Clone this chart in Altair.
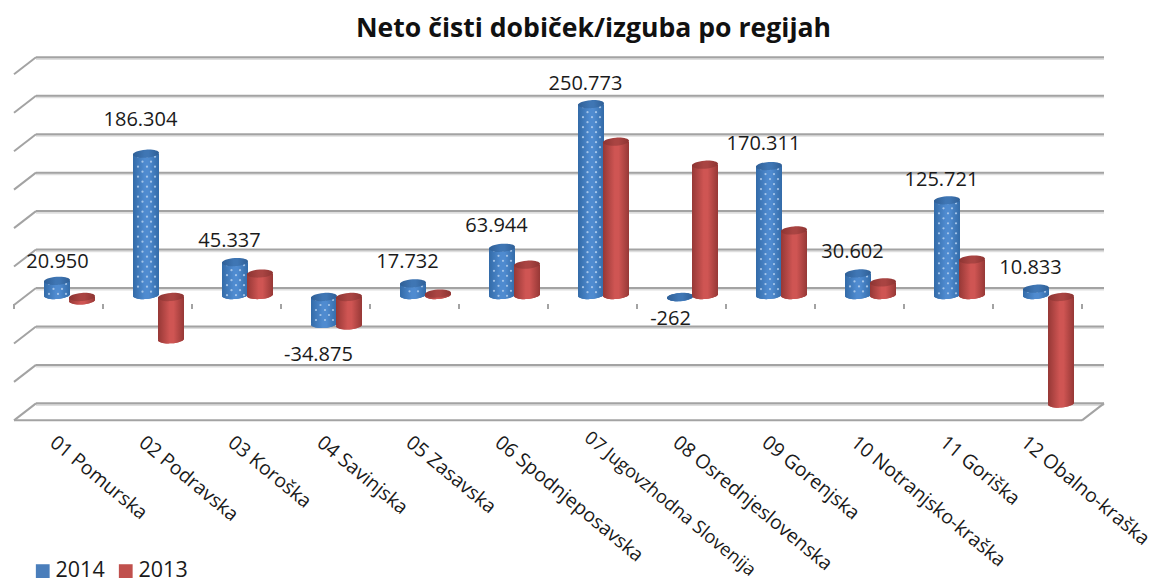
import altair as alt
import pandas as pd

categories = ["01 Pomurska", "02 Podravska", "03 Koroška", "04 Savinjska", "05 Zasavska",
              "06 Spodnjeposavska", "07 Jugovzhodna Slovenija", "08 Osrednjeslovenska",
              "09 Gorenjska", "10 Notranjsko-kraška", "11 Goriška", "12 Obalno-kraška"]
values_2014 = [20950, 186304, 45337, -34875, 17732, 63944, 250773, -262, 170311, 30602, 125721, 10833]
values_2013 = [-4500, -55000, 30500, -37000, 4500, 42000, 202000, 172000, 86500, 19000, 48700, -138500]
grid_values = [-150000, -100000, -50000, 0, 50000, 100000, 150000, 200000, 250000, 300000]
label_text = ["20.950", "186.304", "45.337", "-34.875", "17.732", "63.944", "250.773", "-262",
              "170.311", "30.602", "125.721", "10.833"]
label_dy = [-19, -34, -21, 31, -21, -22, -20, 22, -22, -21, -20, -21]
label_dx = [0.5, -5.5, -5.5, -5.5, -5.5, -5.5, -5.5, -9.5, -5.5, -5.5, -5.5, -5.5]
category_dx = [-6, -6, -6, -6, -6, -6, -6, -6, -6, -6, -6, -14]
category_dy = [0, 0, 0, 0, 0, 0, -4, 0, 0, 0, 0, 0]
category_fs = [19.5, 19.5, 19.5, 19.5, 19.5, 19.5, 18.3, 19.5, 19.5, 19.5, 19.5, 19.5]

# geometry of the pseudo-3D box (pixels)
W, H = 1143, 382
TOP = 40
PX_X = 89.0
PX_V = 0.000769
X0_ABS, Y0_ABS = 14.0, 297.0
x_dom = [(8 - X0_ABS) / PX_X, (8 - X0_ABS + W) / PX_X]
y_dom = [(Y0_ABS - (48 + H)) / PX_V, (Y0_ABS - 48) / PX_V]
xs = alt.Scale(domain=x_dom, range=[0, W], nice=False, zero=False)
ys = alt.Scale(domain=y_dom, range=[H, 0], nice=False, zero=False)
X = lambda f: alt.X(f, type="quantitative", scale=xs, axis=None)
Y = lambda f: alt.Y(f, type="quantitative", scale=ys, axis=None)

DX = 22 / PX_X
BACK = 9 / PX_V
FRONT = -8 / PX_V
BAR = 26 / PX_X
BASE_UP = 2 / PX_V
n = len(categories)

rows = []
for i, c in enumerate(categories):
    cx = i + 0.5 + 11 / PX_X
    for yr, v, x0 in ((2014, values_2014[i], cx - BAR + 0.5 / PX_X), (2013, values_2013[i], cx - 0.5 / PX_X)):
        rows.append(dict(cat=c, year=str(yr), v=v, x0=x0, x1=x0 + BAR, xm=x0 + BAR / 2,
                         top=max(v, 0), bot=BASE_UP if v > 0 else v))
df = pd.DataFrame(rows)
blue = df[df.year == "2014"]
red = df[df.year == "2013"]

grid = pd.DataFrame([dict(xf=0.0, xb=DX, xr=n + DX, yb=g + BACK, yf=g + BACK - 17 / PX_V) for g in grid_values])
floor = grid.iloc[[0]].assign(xe=float(n))
ticks = pd.DataFrame([dict(x=float(i), y=FRONT + 1 / PX_V, y2=FRONT - 4 / PX_V) for i in range(n + 1)])

GRID = "#a3a3a3"
SHADOW = "#dedede"
shadow_px = 1.6 / PX_V
layers = [
    alt.Chart(grid).transform_calculate(ys=f"datum.yb-{shadow_px}").mark_rule(color=SHADOW, strokeWidth=2).encode(
        x=X("xb"), x2="xr", y=Y("ys:Q")),
    alt.Chart(grid).mark_rule(color=GRID, strokeWidth=2).encode(x=X("xb"), x2="xr", y=Y("yb")),
    alt.Chart(grid).mark_rule(color=GRID, strokeWidth=2).encode(x=X("xf"), x2="xb", y=Y("yf"), y2="yb"),
    alt.Chart(floor).mark_rule(color=GRID, strokeWidth=2).encode(x=X("xf"), x2="xe", y=Y("yf")),
    alt.Chart(floor).mark_rule(color=GRID, strokeWidth=2).encode(x=X("xe"), x2="xr", y=Y("yf"), y2="yb"),
    alt.Chart(ticks).mark_rule(color=GRID, strokeWidth=2).encode(x=X("x"), y=Y("y"), y2="y2"),
]

ELLIPSE = "M-1,0.07 A1,0.31 -4 1,1 1,-0.07 A1,0.31 -4 1,1 -1,0.07 Z"
SIZE = 26 ** 2


def grad(edge, mid):
    return alt.Gradient(gradient="linear", x1=0, x2=1, y1=0, y2=0, stops=[
        alt.GradientStop(color=edge, offset=0),
        alt.GradientStop(color=mid, offset=0.45),
        alt.GradientStop(color=mid, offset=0.6),
        alt.GradientStop(color=edge, offset=1)])


color_scale = alt.Scale(domain=["2014", "2013"], range=["#4a7ebb", "#c0504d"])
legend = alt.Legend(title=None, orient="none", legendX=24, legendY=512, direction="horizontal",
                    symbolType="square", symbolSize=190, symbolOpacity=1, symbolStrokeWidth=0,
                    labelFont="Open Sans", labelFontSize=21.5, labelColor="#1a1a1a", labelOffset=2,
                    columnPadding=10, padding=0)

# flat base ellipses carrying the legend
layers.append(alt.Chart(df).mark_point(filled=True, shape=ELLIPSE, size=SIZE, opacity=1, strokeWidth=0).encode(
    x=X("xm"), y=Y("bot"), color=alt.Color("year:N", scale=color_scale, legend=legend, sort=["2014", "2013"])))

dots = []
for _, r in blue.iterrows():
    height = (r.top - r.bot) * PX_V
    k = 0
    y = 3.0
    while y < height + 1:
        for off in ((5.0, 14.0, 22.0) if k % 2 == 0 else (9.5, 18.0)):
            dots.append(dict(x=r.x0 + off / PX_X, y=r.top - y / PX_V))
        y += 5.0
        k += 1
dots = pd.DataFrame(dots)


def cylinder(d, edge, mid, cap_edge, cap_mid):
    return [
        alt.Chart(d).mark_point(filled=True, shape=ELLIPSE, size=SIZE, opacity=1, strokeWidth=0,
                                fill=grad(edge, mid)).encode(x=X("xm"), y=Y("bot")),
        alt.Chart(d).mark_rect(fill=grad(edge, mid)).encode(x=X("x0"), x2="x1", y=Y("bot"), y2="top"),
    ], alt.Chart(d).mark_point(filled=True, shape=ELLIPSE, size=SIZE, opacity=1, strokeWidth=0,
                               fill=grad(cap_edge, cap_mid)).encode(x=X("xm"), y=Y("top"))


b, bc = cylinder(blue, "#336ba8", "#4f8bd0", "#2f5f96", "#3f76b4")
r_, rc = cylinder(red, "#963836", "#cf5553", "#8c3432", "#a94442")
layers += b
layers.append(alt.Chart(dots).mark_point(filled=True, shape="circle", size=5, color="#b5d0ee", opacity=0.85,
                                         strokeWidth=0).encode(x=X("x"), y=Y("y")))
layers += [bc]
layers += r_ + [rc]

# data labels
for i in range(n):
    row = pd.DataFrame([dict(x=blue.iloc[i].xm, y=float(values_2014[i]), t=label_text[i])])
    layers.append(alt.Chart(row).mark_text(font="Open Sans", fontSize=20, color="#1a1a1a", dy=label_dy[i],
                                           dx=label_dx[i], align="center", baseline="middle").encode(
        x=X("x"), y=Y("y"), text="t:N"))

# category labels
for i, c in enumerate(categories):
    row = pd.DataFrame([dict(x=i + 0.5 + category_dx[i] / PX_X, t=c)])
    layers.append(alt.Chart(row).mark_text(font="Open Sans", fontSize=category_fs[i], color="#1a1a1a", angle=39.5,
                                           align="left", baseline="middle").encode(
        x=X("x"), y=alt.value(H + 10 + category_dy[i]), text="t:N"))

chart = alt.layer(*layers).properties(
    width=W, height=H,
    padding={"left": 0, "top": TOP, "right": 0, "bottom": 148},
    autosize=alt.AutoSizeParams(type="none"),
    title=alt.TitleParams("Neto čisti dobiček/izguba po regijah", font="Open Sans", fontSize=26.6, fontWeight="bold",
                          color="#111111", anchor="middle", dx=14, offset=5),
).configure_view(stroke=None)

chart.save("out.html", embed_options={"renderer": "svg", "actions": False})
